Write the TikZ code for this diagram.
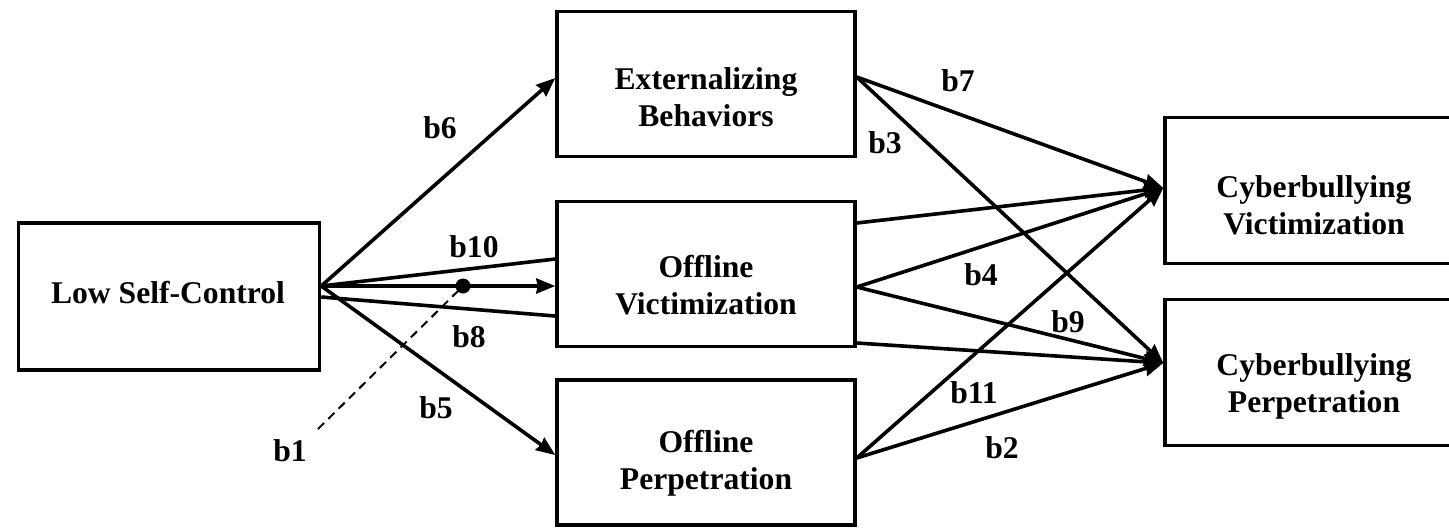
\documentclass[tikz,border=0pt]{standalone}
\usepackage{fontspec}
\setmainfont{Liberation Serif}
\usetikzlibrary{arrows.meta}
\tikzset{>={Stealth[length = 0.38cm, width = 0.3cm, inset = 0.03cm]}}
\tikzstyle{box} = [rectangle, draw = black, line width = 0.07cm, minimum width = 5.96cm, minimum height = 2.9cm]
\tikzstyle{boxtext} = [align = center, font = \fontsize{18}{21}\selectfont\bfseries]
\tikzstyle{coef} = [font = \fontsize{18}{21}\selectfont\bfseries]
\tikzstyle{dot} = [circle, fill = black, inner sep = 0pt, minimum size = 0.3cm]
\tikzstyle{path} = [line width = 0.072cm]

\begin{document}
\begin{tikzpicture}[x = 0.02cm, y = -0.02cm]
    \useasboundingbox (0,0) rectangle (1449,529);
    \clip (0,0) rectangle (1449,529);
    \node (lsc) [box, minimum width = 6.02cm, minimum height = 2.94cm] at (169,296.5) {};
    \node (ext) [box] at (706,84) {};
    \node (ovic) [box, below of = ext, node distance = 3.8cm] {};
    \node (operp) [box, below of = ovic, node distance = 3.57cm] {};
    \node (cvic) [box, minimum width = 6cm, minimum height = 2.92cm] at (1315,190.5) {};
    \node (cperp) [box, minimum width = 6cm, minimum height = 2.92cm, below of = cvic, node distance = 3.64cm] {};
    \node (lscText) [boxtext] at (168,293) {Low Self-Control};
    \node (extText) [boxtext] at (706,97) {Externalizing\\Behaviors};
    \node (ovicText) [boxtext] at (706,285) {Offline\\Victimization};
    \node (operpText) [boxtext] at (706,463) {Offline\\Perpetration};
    \node (cvicText) [boxtext] at (1314,205) {Cyberbullying\\Victimization};
    \node (cperpText) [boxtext] at (1314,386) {Cyberbullying\\Perpetration};
    \coordinate (lscOut) at (lsc.east |- 0,286);
    \coordinate (extOut) at (ext.east |- 0,77);
    \coordinate (cvIn) at (cvic.west |- 0,188);
    \coordinate (cpIn) at (cperp.west |- 0,363);
    \draw [->, path] (lscOut) -- (ext.west |- 0,78);
    \draw [path] (lscOut) -- (ovic.west |- 0,259);
    \draw [->, path] (lscOut) -- (ovic.west |- 0,286);
    \draw [path] (lsc.east |- 0,297) -- (ovic.west |- 0,316);
    \draw [->, path] (lscOut) -- (operp.west |- 0,455);
    \node (mod) [dot] at (463,286) {};
    \coordinate (b1End) at (318,429);
    \draw [dashed, line width = 0.04cm, dash pattern = on 0.17cm off 0.12cm] (b1End) -- (mod.center);
    \draw [->, path] (extOut) -- (cvIn);
    \draw [->, path] (extOut) -- (cpIn);
    \draw [->, path] (ovic.east |- 0,223) -- (cvIn);
    \draw [->, path] (ovic.east |- 0,287) -- (cvIn);
    \draw [->, path] (ovic.east |- 0,287) -- (cpIn);
    \draw [->, path] (ovic.east |- 0,343) -- (cpIn);
    \draw [->, path] (operp.east |- 0,458) -- (cvIn);
    \draw [->, path] (operp.east |- 0,458) -- (cpIn);
    \node (b6) [coef] at (440,128) {b6};
    \node (b10) [coef] at (474,247) {b10};
    \node (b8) [coef] at (469,337) {b8};
    \node (b5) [coef] at (436,408) {b5};
    \node (b1) [coef] at (290,451) {b1};
    \node (b7) [coef] at (958,81) {b7};
    \node (b3) [coef] at (885,143) {b3};
    \node (b4) [coef] at (981,275) {b4};
    \node (b9) [coef] at (1068,322) {b9};
    \node (b11) [coef] at (974,393) {b11};
    \node (b2) [coef] at (1002,448) {b2};
\end{tikzpicture}
\end{document}
